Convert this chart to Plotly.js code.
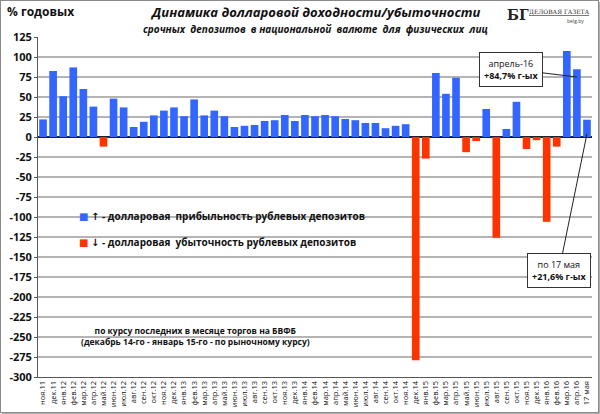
<html>
<head>
<meta charset="utf-8">
<script src="https://cdn.plot.ly/plotly-3.0.1.min.js"></script>
<style>
body { margin: 0; background: #ffffff; }
#chart { width: 597px; height: 411px; border: 1px solid #8a8a8a; box-shadow: 2px 2px 1px #b0b0b0; }
</style>
</head>
<body>
<div id="chart"></div>
<script>
// months, ноя.11 .. 17 мая (2016)
var months = ["ноя.11", "дек.11", "янв.12", "фев.12", "мар.12", "апр.12", "май.12", "июн.12", "июл.12", "авг.12",
  "сен.12", "окт.12", "ноя.12", "дек.12", "янв.13", "фев.13", "мар.13", "апр.13", "май.13", "июн.13",
  "июл.13", "авг.13", "сен.13", "окт.13", "ноя.13", "дек.13", "янв.14", "фев.14", "мар.14", "апр.14",
  "май.14", "июн.14", "июл.14", "авг.14", "сен.14", "окт.14", "ноя.14", "дек.14", "янв.15", "фев.15",
  "мар.15", "апр.15", "май.15", "июн.15", "июл.15", "авг.15", "сен.15", "окт.15", "ноя.15", "дек.15",
  "янв.16", "фев.16", "мар.16", "апр.16", "17 мая"];

// dollar yield, % annual
var yields = [22, 82.5, 51, 87, 60, 38, -12, 48, 37, 12.5,
  19, 27, 33, 37, 26, 47, 27, 33, 26, 12.5,
  14, 15, 20, 21, 27.5, 20, 27.5, 26, 27.5, 26,
  22.5, 21, 17.5, 17.5, 11, 14, 16, -279, -27, 80,
  54, 74, -19, -5, 35, -126, 10, 44, -15, -4,
  -106, -12, 107.5, 84.7, 21.6];

var yTicks = [125, 100, 75, 50, 25, 0, -25, -50, -75, -100, -125, -150, -175, -200, -225, -250, -275, -300];

var blue = "#3366ff";
var red = "#ff3300";

var gains = yields.map(function (v) { return v > 0 ? v : null; });
var losses = yields.map(function (v) { return v < 0 ? v : null; });

var data = [
  { type: "bar", x: months, y: gains, marker: { color: blue }, hoverinfo: "x+y" },
  { type: "bar", x: months, y: losses, marker: { color: red }, hoverinfo: "x+y" }
];

var font = "Open Sans, DejaVu Sans, sans-serif";

var layout = {
  width: 597, height: 411,
  margin: { l: 37, r: 6, t: 36, b: 35 },
  paper_bgcolor: "#ffffff", plot_bgcolor: "#ffffff",
  showlegend: false,
  barmode: "overlay", bargap: 0.24,
  font: { family: font, color: "#111111" },
  xaxis: {
    type: "category", tickmode: "array", tickvals: months, ticktext: months,
    tickangle: -90, tickfont: { size: 7.5, color: "#111" },
    showgrid: false, showline: true, linecolor: "#555", linewidth: 1,
    ticks: "", zeroline: false, automargin: false
  },
  yaxis: {
    range: [-300, 125], tickmode: "array", tickvals: yTicks,
    ticktext: yTicks.map(String),
    tickfont: { size: 11, color: "#111", weight: "bold" },
    showgrid: true, gridcolor: "#b4b4b4", gridwidth: 1.2,
    zeroline: true, zerolinecolor: "#222", zerolinewidth: 1.5,
    showline: true, linecolor: "#555", ticks: "outside", ticklen: 3, tickcolor: "#555",
    automargin: false
  },
  annotations: [
    { xref: "paper", yref: "paper", x: -0.06, y: 1.075, xanchor: "left", yanchor: "middle",
      text: "<b>% годовых</b>", showarrow: false, font: { size: 12, color: "#111" } },
    { xref: "paper", yref: "paper", x: 0.5, y: 1.075, xanchor: "center", yanchor: "middle",
      text: "<b><i>Динамика долларовой доходности/убыточности</i></b>", showarrow: false,
      font: { size: 13, color: "#111" } },
    { xref: "paper", yref: "paper", x: 0.5, y: 1.025, xanchor: "center", yanchor: "middle",
      text: "<b><i>срочных  депозитов  в национальной  валюте  для  физических  лиц</i></b>", showarrow: false,
      font: { size: 10, color: "#111" } },
    // logo
    { xref: "paper", yref: "paper", x: 0.89, y: 1.065, xanchor: "right", yanchor: "middle",
      text: "<b>БГ</b>", showarrow: false, font: { size: 14, color: "#222", family: "DejaVu Serif, serif" } },
    { xref: "paper", yref: "paper", x: 1.0, y: 1.075, xanchor: "right", yanchor: "middle",
      text: "<u>ДЕЛОВАЯ ГАЗЕТА</u>", showarrow: false, font: { size: 6, color: "#222", family: "DejaVu Serif, serif" } },
    { xref: "paper", yref: "paper", x: 0.97, y: 1.048, xanchor: "center", yanchor: "middle",
      text: "belg.by", showarrow: false, font: { size: 5, color: "#444" } },
    // legend
    { xref: "paper", yref: "paper", x: 0.07, y: 0.474, xanchor: "left", yanchor: "middle",
      text: "<span style='color:" + blue + "'>■</span> <b>↑ - долларовая  прибыльность рублевых депозитов</b>",
      showarrow: false, font: { size: 10, color: "#111" } },
    { xref: "paper", yref: "paper", x: 0.07, y: 0.397, xanchor: "left", yanchor: "middle",
      text: "<span style='color:" + red + "'>■</span> <b>↓ - долларовая  убыточность рублевых депозитов</b>",
      showarrow: false, font: { size: 10, color: "#111" } },
    // footnote
    { xref: "paper", yref: "paper", x: 0.285, y: 0.122, xanchor: "center", yanchor: "middle",
      text: "<b>по курсу последних в месяце торгов на БВФБ<br>(декабрь 14-го - январь 15-го - по рыночному курсу)</b>",
      showarrow: false, font: { size: 8.5, color: "#111" } },
    // callouts
    { x: "апр.16", y: 75, xref: "x", yref: "y", ax: -66, ay: -8,
      text: "апрель-16<br><b>+84,7% г-ых</b>", showarrow: true, arrowhead: 0, arrowwidth: 1, arrowcolor: "#222",
      bgcolor: "#ffffff", bordercolor: "#333", borderwidth: 1, borderpad: 4,
      font: { size: 9, color: "#111" } },
    { x: "17 мая", y: 4, xref: "x", yref: "y", ax: -28, ay: 137,
      text: "по 17 мая<br><b>+21,6% г-ых</b>", showarrow: true, arrowhead: 0, arrowwidth: 1, arrowcolor: "#222",
      bgcolor: "#ffffff", bordercolor: "#333", borderwidth: 1, borderpad: 4,
      font: { size: 9, color: "#111" } }
  ]
};

Plotly.newPlot("chart", data, layout, { displayModeBar: false, staticPlot: true });
</script>
</body>
</html>
